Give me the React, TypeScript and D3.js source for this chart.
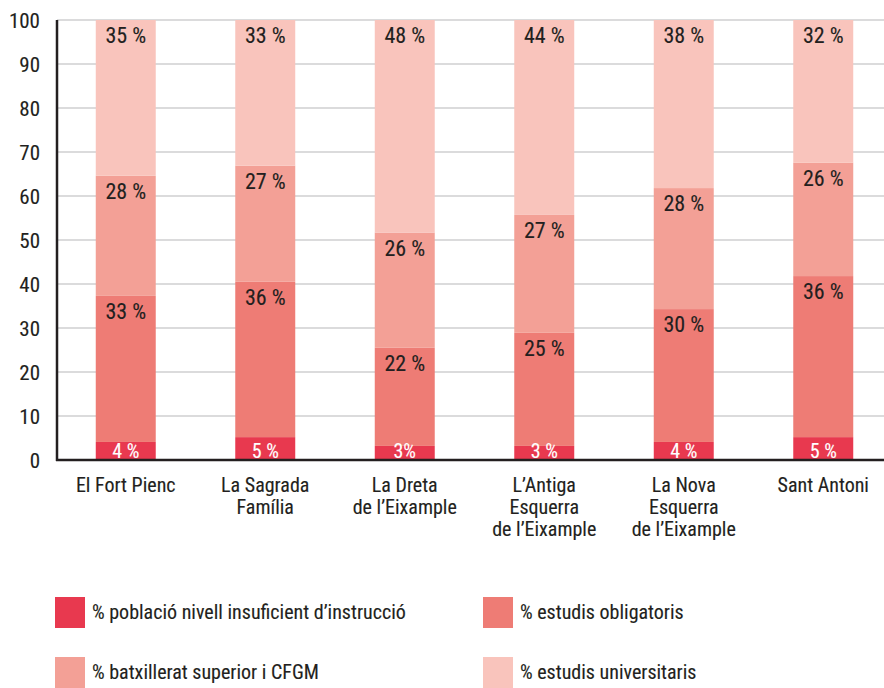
import React, { useEffect, useRef } from 'react'
import * as d3 from 'd3'

const districts = [
  ['El Fort Pienc'],
  ['La Sagrada', 'Família'],
  ['La Dreta', 'de l’Eixample'],
  ['L’Antiga', 'Esquerra', 'de l’Eixample'],
  ['La Nova', 'Esquerra', 'de l’Eixample'],
  ['Sant Antoni'],
]

const insuficient = [4.1, 5.2, 3.2, 3.2, 4.1, 5.2]
const obligatoris = [33.2, 35.3, 22.3, 25.7, 30.2, 36.6]
const batxillerat = [27.3, 26.4, 26.2, 26.8, 27.5, 25.8]
const universitaris = [35.4, 33.1, 48.3, 44.3, 38.2, 32.4]

const insuficientLabels = ['4 %', '5 %', '3%', '3 %', '4 %', '5 %']
const obligatorisLabels = ['33 %', '36 %', '22 %', '25 %', '30 %', '36 %']
const batxilleratLabels = ['28 %', '27 %', '26 %', '27 %', '28 %', '26 %']
const universitarisLabels = ['35 %', '33 %', '48 %', '44 %', '38 %', '32 %']

const seriesNames = [
  '% població nivell insuficient d’instrucció',
  '% estudis obligatoris',
  '% batxillerat superior i CFGM',
  '% estudis universitaris',
]
const colors = ['#e8394f', '#ee7c75', '#f3a096', '#f9c4bc']

const yTicks = [0, 10, 20, 30, 40, 50, 60, 70, 80, 90, 100]

const FONT = '"Roboto Condensed", "Liberation Sans Narrow", "Arial Narrow", sans-serif'

export default function App() {
  const chart = useRef<SVGSVGElement>(null)

  const width = 884
  const height = 688
  const margin = { top: 20, right: 0, bottom: 228, left: 57 }

  useEffect(() => {
    const svg = d3.select(chart.current)
    svg.selectAll('*').remove()

    const keys = ['insuficient', 'obligatoris', 'batxillerat', 'universitaris']
    const rows = districts.map((d, i) => ({
      name: d.join(' '),
      insuficient: insuficient[i],
      obligatoris: obligatoris[i],
      batxillerat: batxillerat[i],
      universitaris: universitaris[i],
    }))
    const labels = [insuficientLabels, obligatorisLabels, batxilleratLabels, universitarisLabels]

    const x = d3.scaleBand()
      .domain(rows.map(d => d.name))
      .range([margin.left - 1, 893])
      .paddingInner(0.57)
      .paddingOuter(0.285)

    const y = d3.scaleLinear()
      .domain([0, 100])
      .range([height - margin.bottom, margin.top])

    const stacked = d3.stack().keys(keys)(rows as any)

    // text helper - thin stroke for the heavier look of the original
    const ink = (sel: any, color: string) => sel
      .attr('font-family', FONT)
      .attr('fill', color)
      .attr('stroke', color)
      .attr('stroke-width', 0.12)

    // grid lines
    svg.append('g')
      .selectAll('line')
      .data(yTicks.slice(1))
      .join('line')
      .attr('x1', margin.left)
      .attr('x2', width)
      .attr('y1', d => y(d))
      .attr('y2', d => y(d))
      .attr('stroke', '#cfcfd1')
      .attr('stroke-width', 1.5)

    // y tick labels
    svg.append('g')
      .selectAll('text')
      .data(yTicks)
      .join('text')
      .attr('x', 40)
      .attr('y', d => y(d) + 8)
      .attr('text-anchor', 'end')
      .attr('font-size', 21)
      .call(ink, '#231f20')
      .text(d => d)

    // bars
    const layer = svg.append('g')
      .selectAll('g')
      .data(stacked)
      .join('g')
      .attr('fill', (_, i) => colors[i])

    layer.selectAll('rect')
      .data(d => d)
      .join('rect')
      .attr('x', (d: any) => x(d.data.name)!)
      .attr('width', x.bandwidth())
      .attr('y', d => y(Math.min(d[1], 100)))
      .attr('height', d => y(d[0]) - y(Math.min(d[1], 100)))

    // value labels
    stacked.forEach((s, si) => {
      svg.append('g')
        .selectAll('text')
        .data(s)
        .join('text')
        .attr('x', (d: any) => x(d.data.name)! + x.bandwidth() / 2)
        .attr('y', d => si === 0 ? y(0) - 2 : y(Math.min(d[1], 100)) + 23)
        .attr('text-anchor', 'middle')
        .attr('font-size', si === 0 ? 20 : 22)
        .call(ink, si === 0 ? '#ffffff' : '#231f20')
        .text((_, i) => labels[si][i])
    })

    // axes lines
    svg.append('line')
      .attr('x1', margin.left)
      .attr('x2', margin.left)
      .attr('y1', y(100))
      .attr('y2', y(0) + 1)
      .attr('stroke', '#231f20')
      .attr('stroke-width', 2.5)

    svg.append('line')
      .attr('x1', margin.left - 1)
      .attr('x2', width)
      .attr('y1', y(0))
      .attr('y2', y(0))
      .attr('stroke', '#231f20')
      .attr('stroke-width', 2.5)

    // category labels
    const cat = svg.append('g')
      .selectAll('text')
      .data(rows)
      .join('text')
      .attr('x', d => x(d.name)! + x.bandwidth() / 2)
      .attr('y', 492)
      .attr('text-anchor', 'middle')
      .attr('font-size', 20)
      .call(ink, '#231f20')

    cat.selectAll('tspan')
      .data((_, i) => districts[i])
      .join('tspan')
      .attr('x', function () {
        return (this.parentNode as SVGTextElement).getAttribute('x')
      })
      .attr('dy', (_, i) => i === 0 ? 0 : 22)
      .text(d => d)

    // legend
    const legend = svg.append('g')
      .selectAll('g')
      .data(seriesNames)
      .join('g')
      .attr('transform', (_, i) => `translate(${i % 2 === 0 ? 55 : 483},${i < 2 ? 597 : 657})`)

    legend.append('rect')
      .attr('width', 30)
      .attr('height', 31)
      .attr('fill', (_, i) => colors[i])

    legend.append('text')
      .attr('x', 37)
      .attr('y', 22)
      .attr('font-size', 20)
      .call(ink, '#231f20')
      .text(d => d)
  }, [])

  return (
    <svg
      ref={chart}
      width={width}
      height={height}
      style={{ position: 'absolute', left: 0, top: 0, background: '#fff' }}
    />
  )
}
